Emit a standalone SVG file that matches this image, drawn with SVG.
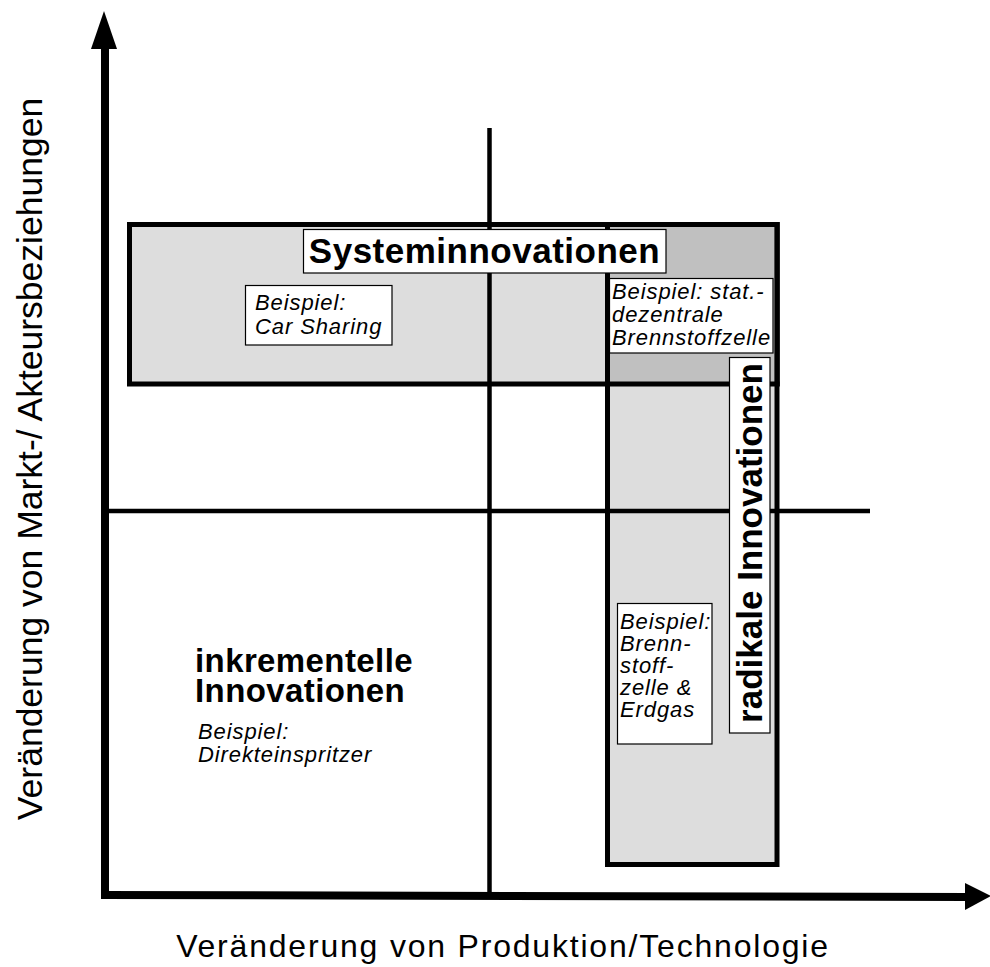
<svg xmlns="http://www.w3.org/2000/svg" width="990" height="967" viewBox="0 0 990 967">
<style>
.area{fill:#dddddd;stroke:#000;stroke-width:5}
.lbl{fill:#fff;stroke:#000;stroke-width:1.2}
.ax{stroke:#000;stroke-width:8;fill:none}
.mid{stroke:#000;stroke-width:4.5;fill:none}
.big{font-family:"Liberation Sans",Arial,sans-serif;font-weight:bold;fill:#000}
.ex{font-family:"Liberation Sans",Arial,sans-serif;font-style:italic;font-size:22px;letter-spacing:0.9px;fill:#000}
.axl{font-family:"Liberation Sans",Arial,sans-serif;fill:#000}
</style>
<rect width="990" height="967" fill="#fff"/>
<g id="systeminnovationen">
<rect class="area" x="129.5" y="224.5" width="647.5" height="159.5"/>
</g>
<g id="radikale">
<rect class="area" x="607.5" y="224.5" width="169.5" height="640"/>
<rect x="610" y="227" width="164.5" height="155" fill="#c0c0c0"/>
<line x1="607.5" y1="222" x2="607.5" y2="386" stroke="#000" stroke-width="5"/>
<line x1="777" y1="222" x2="777" y2="386" stroke="#000" stroke-width="5"/>
<line x1="605" y1="384" x2="779.5" y2="384" stroke="#000" stroke-width="5"/>
</g>
<g id="connectors">
<line class="mid" x1="489.5" y1="128" x2="489.5" y2="893"/>
<line class="mid" x1="107" y1="511" x2="870" y2="511"/>
<line class="ax" x1="105" y1="44" x2="105" y2="899"/>
<line class="ax" x1="101" y1="895" x2="968" y2="897"/>
<polygon points="104,11 117,49 91,49" fill="#000"/>
<polygon points="965,883 991,896 965,910" fill="#000"/>
</g>
<g id="label-system">
<rect class="lbl" x="303.5" y="229.5" width="362.5" height="43.5"/>
<text class="big" x="484.5" y="263" font-size="35" letter-spacing="0.5" text-anchor="middle">Systeminnovationen</text>
</g>
<g id="bsp-carsharing">
<rect class="lbl" x="245.5" y="285.5" width="146.5" height="59.5"/>
<text class="ex" x="255" y="310">Beispiel:</text>
<text class="ex" x="255" y="334">Car Sharing</text>
</g>
<g id="bsp-stat">
<rect class="lbl" x="609.5" y="278.5" width="163.5" height="74.5"/>
<text class="ex" x="612" y="299">Beispiel: stat.-</text>
<text class="ex" x="612" y="322">dezentrale</text>
<text class="ex" x="612" y="345">Brennstoffzelle</text>
</g>
<g id="label-radikal">
<rect class="lbl" x="729.5" y="357.5" width="40.5" height="375.5"/>
<text class="big" transform="translate(762,543) rotate(-90)" x="0" y="0" font-size="35" text-anchor="middle">radikale Innovationen</text>
</g>
<g id="bsp-brennstoff">
<rect class="lbl" x="617.5" y="603.5" width="94.5" height="140.5"/>
<text class="ex" x="620" y="629">Beispiel:</text>
<text class="ex" x="620" y="651">Brenn-</text>
<text class="ex" x="620" y="673">stoff-</text>
<text class="ex" x="620" y="695">zelle &amp;</text>
<text class="ex" x="620" y="717">Erdgas</text>
</g>
<g id="inkrementell">
<text class="big" x="195" y="672" font-size="33" letter-spacing="0.4">inkrementelle</text>
<text class="big" x="195" y="702" font-size="33" letter-spacing="0.4">Innovationen</text>
<text class="ex" x="198" y="739">Beispiel:</text>
<text class="ex" x="198" y="762">Direkteinspritzer</text>
</g>
<g id="axis-labels">
<text class="axl" x="503" y="957" font-size="32" letter-spacing="1.8" text-anchor="middle">Veränderung von Produktion/Technologie</text>
<text class="axl" transform="translate(42,459) rotate(-90)" x="0" y="0" font-size="35.5" text-anchor="middle">Veränderung von Markt-/ Akteursbeziehungen</text>
</g>
</svg>
